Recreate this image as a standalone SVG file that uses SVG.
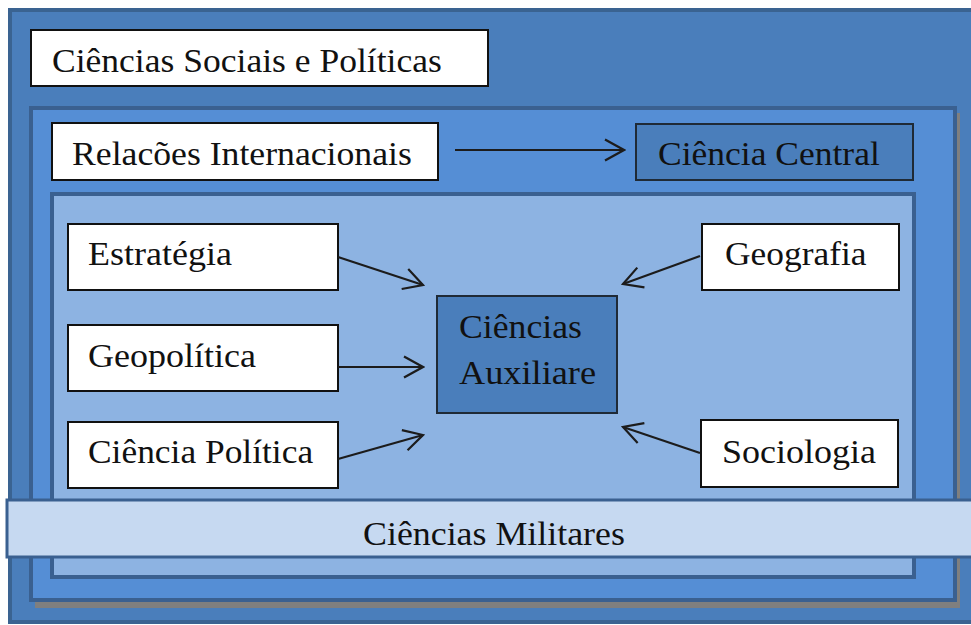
<svg xmlns="http://www.w3.org/2000/svg" width="971" height="625" viewBox="0 0 971 625">
  <defs>
    <marker id="arr" markerUnits="userSpaceOnUse" markerWidth="24" markerHeight="26" viewBox="-22 -13 24 26" refX="0" refY="0" orient="auto">
      <path d="M-19,-10.5 L0,0 L-19,10.5" fill="none" stroke="#1c1c1c" stroke-width="2.2" stroke-linejoin="miter"/>
    </marker>
    <style>
      .t { font-family: "Liberation Serif", "Times New Roman", serif; font-size: 33px; fill: #111; }
      .box { fill: #ffffff; stroke: #111; stroke-width: 2; }
      .dark { fill: #4a7ebb; stroke: #1f2a36; stroke-width: 2; }
      .conn line { stroke: #1c1c1c; stroke-width: 2.2; marker-end: url(#arr); }
    </style>
  </defs>
  <rect x="0" y="0" width="971" height="625" fill="#ffffff"/>

  <g id="outer">
    <rect x="10" y="10" width="968" height="612" fill="#4a7ebb" stroke="#3a6391" stroke-width="4"/>
  </g>
  <g id="sociais">
    <rect class="box" x="31" y="30" width="457" height="56"/>
    <text class="t" transform="matrix(1.077 0 0 1 52 72)">Ciências Sociais e Políticas</text>
  </g>

  <g id="middle">
    <rect x="35" y="113" width="925" height="495" fill="#7f7f7f"/>
    <rect x="31" y="108" width="924" height="492" fill="#558ed5" stroke="#3a6090" stroke-width="4"/>
  </g>
  <g id="relacoes">
    <rect class="box" x="52" y="123" width="386" height="57"/>
    <text class="t" transform="matrix(1.082 0 0 1 72 165)">Relacões Internacionais</text>
  </g>
  <g id="central">
    <rect class="dark" x="636" y="124" width="277" height="56"/>
    <text class="t" transform="matrix(1.076 0 0 1 658 165)">Ciência Central</text>
  </g>

  <g id="inner">
    <rect x="52" y="194" width="862" height="383" fill="#8db3e2" stroke="#3a6090" stroke-width="4"/>
  </g>

  <g id="estrategia">
    <rect class="box" x="68" y="224" width="270" height="66"/>
    <text class="t" transform="matrix(1.091 0 0 1 88 265)">Estratégia</text>
  </g>
  <g id="geopolitica">
    <rect class="box" x="68" y="325" width="270" height="66"/>
    <text class="t" transform="matrix(1.091 0 0 1 88 367)">Geopolítica</text>
  </g>
  <g id="cienciapolitica">
    <rect class="box" x="68" y="422" width="270" height="66"/>
    <text class="t" transform="matrix(1.073 0 0 1 88 463)">Ciência Política</text>
  </g>
  <g id="geografia">
    <rect class="box" x="702" y="224" width="197" height="66"/>
    <text class="t" transform="matrix(1.073 0 0 1 725 265)">Geografia</text>
  </g>
  <g id="sociologia">
    <rect class="box" x="701" y="420" width="197" height="67"/>
    <text class="t" transform="matrix(1.091 0 0 1 722 463)">Sociologia</text>
  </g>
  <g id="auxiliare">
    <rect class="dark" x="437" y="296" width="180" height="117"/>
    <text class="t" transform="matrix(1.082 0 0 1 459 338)">Ciências</text>
    <text class="t" transform="matrix(1.1 0 0 1 459 384)">Auxiliare</text>
  </g>

  <g id="connectors" class="conn">
    <line x1="455" y1="150" x2="624" y2="150"/>
    <line x1="338" y1="257" x2="423" y2="285"/>
    <line x1="338" y1="367" x2="423" y2="367"/>
    <line x1="338" y1="459" x2="423" y2="435"/>
    <line x1="700" y1="256" x2="623" y2="284"/>
    <line x1="700" y1="453" x2="623" y2="427"/>
  </g>

  <g id="militares">
    <rect x="7" y="500" width="970" height="57" fill="#c6d9f1" stroke="#3a6090" stroke-width="3"/>
    <text class="t" transform="matrix(1.087 0 0 1 363 545)">Ciências Militares</text>
  </g>
</svg>
